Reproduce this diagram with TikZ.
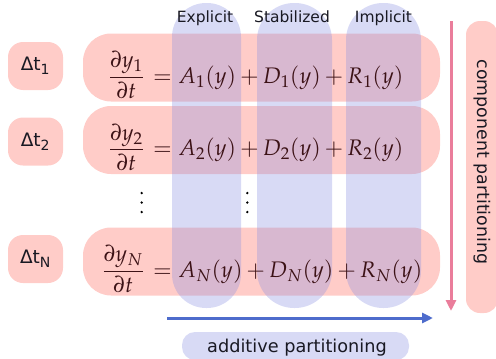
\documentclass[tikz,border=0pt]{standalone}
\usepackage{mathpazo}
\usepackage{fontspec}
\setmainfont{DejaVu Sans}
\usetikzlibrary{arrows.meta}
\definecolor{rowpink}{RGB}{255,204,200}
\definecolor{colblue}{RGB}{138,144,225}
\definecolor{boxblue}{RGB}{216,218,245}
\definecolor{arrpink}{RGB}{234,125,155}
\definecolor{arrblue}{RGB}{78,108,204}
\definecolor{eqtext}{RGB}{60,18,22}
\definecolor{lbltext}{RGB}{25,25,35}
\begin{document}
\begin{tikzpicture}[x=1pt,y=-1pt,
  rowbox/.style={fill=rowpink, minimum width=357pt, minimum height=68pt, rounded corners=28pt, inner sep=0pt, draw=none},
  dtbox/.style={fill=rowpink, minimum width=55pt, minimum height=48pt, rounded corners=15pt, inner sep=0pt, text=lbltext, font=\fontsize{18.5}{21}\selectfont},
  colbox/.style={fill=colblue, fill opacity=0.33, minimum height=305pt, inner sep=0pt, draw=none},
  eqs/.style={inner sep=0pt, text=eqtext, font=\fontsize{22.5}{26}\selectfont},
  toplbl/.style={inner sep=0pt, text=lbltext, font=\fontsize{15.5}{18}\selectfont, anchor=base},
  biglbl/.style={inner sep=0pt, text=lbltext, font=\fontsize{17.7}{20}\selectfont},
  dotc/.style={fill=black, circle, inner sep=0pt, minimum size=2.6pt},
  arr/.style={line width=3pt, -{Triangle[length=11pt,width=10pt]}}
]
\useasboundingbox (0,0) rectangle (496,359);
\medmuskip=3mu plus 2mu minus 2mu

% rows
\node[rowbox] (row1) at (261.5,67.5) {};
\node[rowbox] (row2) at (261.5,140) {};
\node[rowbox] (rowN) at (261.5,261.5) {};

% time step boxes
\node[dtbox] (dt1) at (35.5,66) {Δt\textsubscript{1}};
\node[dtbox] (dt2) at (35.5,141.5) {Δt\textsubscript{2}};
\node[dtbox] (dtN) at (35.5,259) {Δt\textsubscript{N}};

% side and bottom boxes
\node[fill=rowpink, minimum width=32pt, minimum height=292pt, rounded corners=14pt, inner sep=0pt] (compbox) at (482,167) {};
\node[fill=boxblue, minimum width=227pt, minimum height=28pt, rounded corners=13pt, inner sep=0pt] (addbox) at (295.5,346) {};

% columns
\node[colbox, minimum width=69pt, rounded corners=34pt] (colE) at (206.5,155.5) {};
\node[colbox, minimum width=75pt, rounded corners=37pt] (colS) at (294.5,155.5) {};
\node[colbox, minimum width=75pt, rounded corners=37pt] (colI) at (383.5,155.5) {};

% column labels
\node[toplbl] (lE) at (205,22) {Explicit};
\node[toplbl] (lS) at (292,22) {Stabilized};
\node[toplbl] (lI) at (383.5,22) {Implicit};

% equations
\node[eqs, anchor=base east] (f1) at (144,83) {$\displaystyle\frac{\partial y_1}{\partial t}$};
\node[eqs, anchor=base west] (r1) at (153,83) {$= A_1(y) + D_1(y) + R_1(y)$};
\node[eqs, anchor=base east] (f2) at (144,155.5) {$\displaystyle\frac{\partial y_2}{\partial t}$};
\node[eqs, anchor=base west] (r2) at (153,155.5) {$= A_2(y) + D_2(y) + R_2(y)$};
\node[eqs, anchor=base east] (fN) at (144,277) {$\displaystyle\frac{\partial y_N}{\partial t}$};
\node[eqs, anchor=base west] (rN) at (153,277) {$= A_N(y) + D_N(y) + R_N(y)$};

% vertical dots
\foreach \yy [count=\i] in {193,202.5,212}{
  \node[dotc] (da\i) at (141.7,\yy) {};
  \node[dotc] (db\i) at (247.3,\yy) {};
}

% arrows
\coordinate (pA) at (451,21);
\coordinate (pB) at (451,311);
\draw[arr, arrpink] (pA) -- (pB);
\coordinate (bA) at (167,318);
\coordinate (bB) at (433,318);
\draw[arr, arrblue] (bA) -- (bB);

% partition labels
\node[biglbl, rotate=-90, font=\fontsize{17.4}{20}\selectfont] (lcomp) at (482,162) {component partitioning};
\node[biglbl, anchor=base] (ladd) at (297,352) {additive partitioning};
\end{tikzpicture}
\end{document}
